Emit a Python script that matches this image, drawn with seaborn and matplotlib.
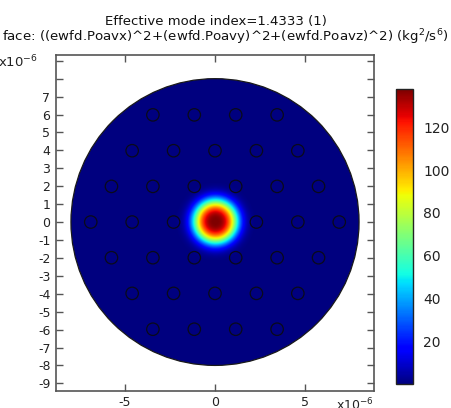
import numpy as np
import matplotlib
matplotlib.use("Agg")
import matplotlib.pyplot as plt
from matplotlib.patches import Circle
import seaborn as sns

# ---------------- data ----------------
title_line1 = "Effective mode index=1.4333 (1)"
title_line2 = "face: ((ewfd.Poavx)^2+(ewfd.Poavy)^2+(ewfd.Poavz)^2) (kg$^2$/s$^6$)"

# air-hole centres (µm), hexagonal lattice, pitch 2.3 µm
hole_x = [-6.9, -4.6, -2.3, 2.3, 4.6, 6.9,
          -5.75, -3.45, -1.15, 1.15, 3.45, 5.75,
          -5.75, -3.45, -1.15, 1.15, 3.45, 5.75,
          -4.6, -2.3, 0.0, 2.3, 4.6,
          -4.6, -2.3, 0.0, 2.3, 4.6,
          -3.45, -1.15, 1.15, 3.45,
          -3.45, -1.15, 1.15, 3.45]
hole_y = [0.0, 0.0, 0.0, 0.0, 0.0, 0.0,
          1.99, 1.99, 1.99, 1.99, 1.99, 1.99,
          -1.99, -1.99, -1.99, -1.99, -1.99, -1.99,
          3.98, 3.98, 3.98, 3.98, 3.98,
          -3.98, -3.98, -3.98, -3.98, -3.98,
          5.98, 5.98, 5.98, 5.98,
          -5.98, -5.98, -5.98, -5.98]

fiber_radius = 8.0          # µm
mode_peak = 137.8           # max of colour range
mode_width = 1.22           # µm
mode_order = 3.0
color_min = 0.0

x_ticks = [-5, 0, 5]
y_ticks = [-9, -8, -7, -6, -5, -4, -3, -2, -1, 0, 1, 2, 3, 4, 5, 6, 7, 8, 9]
y_ticklabels = ["-9", "-8", "-7", "-6", "-5", "-4", "-3", "-2", "-1", "0",
                "1", "2", "3", "4", "5", "6", "7", "", ""]
cbar_ticks = [20, 40, 60, 80, 100, 120]

# ---------------- style ----------------
sns.set_style("ticks")
plt.rcParams["font.family"] = ["DejaVu Sans"]
plt.rcParams["axes.unicode_minus"] = False
plt.rcParams["mathtext.fontset"] = "dejavusans"

W, H = 452, 408
fig = plt.figure(figsize=(W / 100, H / 100), dpi=100)
fig.patch.set_facecolor("white")

ax = fig.add_axes([56 / W, (H - 390.7) / H, 318 / W, 335.7 / H])
ax.set_facecolor("white")

# field
n = 601
g = np.linspace(-fiber_radius, fiber_radius, n)
X, Y = np.meshgrid(g, g)
R = np.sqrt(X ** 2 + Y ** 2)
Z = mode_peak * np.exp(-(R / mode_width) ** mode_order)

im = ax.imshow(Z, extent=[-fiber_radius, fiber_radius, -fiber_radius, fiber_radius],
               origin="lower", cmap="jet", vmin=color_min, vmax=mode_peak,
               interpolation="bilinear", zorder=1)
clip = Circle((0, 0), fiber_radius, transform=ax.transData)
im.set_clip_path(clip)
ax.add_patch(Circle((0, 0), fiber_radius, fill=False, ec="#1a1a1a", lw=0.9, zorder=3))

sns.scatterplot(x=hole_x, y=hole_y, ax=ax, marker="o", s=80,
                facecolors="none", edgecolor="#0a0a1a", linewidth=0.9,
                legend=False, zorder=4)

ax.set_xlim(-8.83, 8.83)
ax.set_ylim(-9.41, 9.32)
ax.set_aspect("auto")
ax.set_xticks(x_ticks)
ax.set_xticklabels([str(v) for v in x_ticks])
ax.set_yticks(y_ticks)
ax.set_yticklabels(y_ticklabels)
ax.set_xlabel("")
ax.set_ylabel("")
ax.tick_params(direction="in", length=5, width=1.0, color="#555555",
               top=True, right=True, labelsize=9, labelcolor="#222222", pad=4)
for sp in ax.spines.values():
    sp.set_color("#555555")
    sp.set_linewidth(1.2)
    sp.set_visible(True)

# multipliers
fig.text(-2 / W, (H - 67.5) / H, "x10$^{-6}$", fontsize=9.5, color="#222222",
         ha="left", va="baseline")
fig.text(336 / W, (H - 410) / H, "x10$^{-6}$", fontsize=9, color="#222222",
         ha="left", va="baseline")

# titles
fig.text(216 / W, (H - 25) / H, title_line1, fontsize=9.5, color="#111111",
         ha="center", va="baseline")
fig.text(2 / W, (H - 41) / H, title_line2, fontsize=9.6, color="#111111",
         ha="left", va="baseline")

# colorbar
cax = fig.add_axes([396 / W, (H - 384) / H, 17.3 / W, 294.7 / H])
cb = fig.colorbar(im, cax=cax, ticks=cbar_ticks)
cb.outline.set_edgecolor("#222222")
cb.outline.set_linewidth(1.0)
cax.tick_params(direction="in", length=4, width=1.0, color="#333333",
                left=True, right=True, labelsize=10, labelcolor="#222222", pad=7)

fig.savefig("out.png", dpi=100)
